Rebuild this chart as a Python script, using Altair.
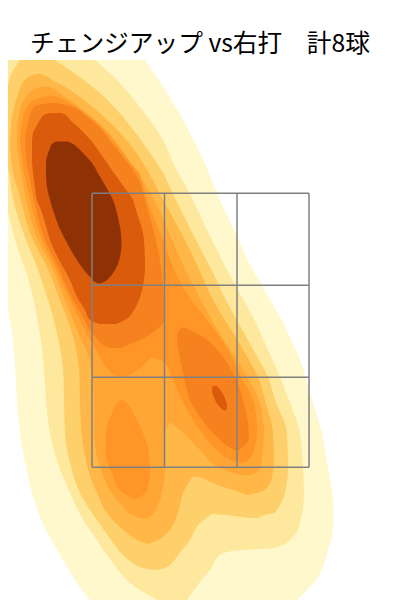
import altair as alt
import pandas as pd

title_text = "チェンジアップ vs右打　計8球"
zone_x = [92, 164.5, 237, 309]
zone_y = [193.3, 285.3, 377.3, 467.3]
level_colors = ["#FFF8CD", "#FEE89E", "#FED06C", "#FFB847", "#FFA636", "#FE9526", "#F6821F", "#D95B0B", "#8E3206"]

L1_y = [60,93,127,153,200,238,267,285,300,317,333,360,400,433,467,500,517,530,550,560,577,590,600]
L1_l = [0,0,0,0,0,0,0,3,7,9,12,14.5,17,20,26,34,40,46,57,63,73,82,90]
L1_r = [145,167,187,200,220,238,251,262,270,280,288,300,312,322,328,333,333.5,333,328,325,318,307,298]

L2_y = [60,80,107,140,165,194,213,240,285,317,350,377,400,433,467,493,523,540,548,551,555,570,582,600]
L2_l = [0,0,0,0,0,2,8,15,30,37,42,44.5,46,50,59,70,85,97,102,104,107,118,129,157]
L2_r = [95,117,140,163,174,190,199,212,235,253,268,280,289,300,303,304,300,290,273,233,220,210,200,187]

L3_y = [60,75,93,117,143,173,194,240,267,300,333,360,377,400,433,467,493,510,513]
L3_l = [20,11,6.5,5,5,9,12,26,37,48,57,62,63.5,64,65,71,80,90,92]
L3_r = [55,77,100,123,143,163,173,196,210,226,244,259,268,275,287,288,285,277,275]
L3b_y = [513,515,518]
L3b_l = [205,225,250]
L3b_r = [275,265,258]
L3c_y = [513,523,540,555,563,568,570]
L3c_l = [92,99,111,123,133,142,155]
L3c_r = [213,200,190,178,172,165,158]

L4_y = [74,76,80,88,97,117,143,173,194,240,267,300,333,360,377,400,433,460,477]
L4_l = [37,30,25,20,17,12,10,13,19,33,47,60,72,78,79.5,80,81.5,86,90]
L4_r = [41,46,52,67,80,104,129,149,160,185,198,213,233,249,258,265,273,274,272]
L4b_y = [477,493,513,533,540,543.5]
L4b_l = [90,97,107,127,137,146]
L4b_r = [192,183,178,167,158,150]
L4c_y = [477,487,491,495]
L4c_l = [200,223,236,247]
L4c_r = [272,268,262,250]

L5_y = [86.5,88,92,98,110,133,143,167,194,240,267,300,337,358,377,400,422]
L5_l = [45,37,30,25,20,17,17,20,25,38,52,65,80,89,92,94,94]
L5_r = [48,53,58,67,83,109,117,133,151,172,184,201,222,236,247,259,263]
L5b_y = [422,433,467,487,497,507,515,518.5]
L5b_l = [94,94,100,108,114,123,132,141]
L5b_r = [170,165,165,163,161,157,152,147]
L5c_y = [422,430,450,468,473,475.5]
L5c_l = [170,180,200,220,233,243]
L5c_r = [263,264,263,260,255,248]

L6_y = [96,98,103,117,123,140,153,167,173,194,240,267,300,320,343,357]
L6_l = [50,40,30,23,22,20,21,23,24,29,42,55,70,80,92,100]
L6_r = [54,60,70,90,97,113,123,134,139,145,163,173,191,207,224,232]
L6b_y = [357,368,374,378]
L6b_l = [100,107,113,121]
L6b_r = [152,140,131,124]
L6c_y = [357,363,377,400,430,450,461,462.5]
L6c_l = [152,165,172,182,200,217,233,240]
L6c_r = [232,235,241,253,257,254,247,243]
L6d_y = [400,403,413,433,453,473,490,495,499]
L6d_l = [121,117,112,106,106,112,120,127,134]
L6d_r = [123,127,133,143,149,150,147,143,136]

L7_y = [103,105,108,115,123,143,157,170,180,200,240,267,300,317,333,340,345,348]
L7_l = [50,38,33,30,28,25,26,28,30,34,45,58,73,83,92,98,103,110]
L7_r = [56,66,75,85,95,112,123,133,139,145,156,161,164,165,152,140,128,121]
L7b_y = [327.5,330,337,353,377,400,417,437,447,450.5]
L7b_l = [183,179,177,179,184,190,200,217,229,236]
L7b_r = [185,190,203,220,235,243,247,249,243,238]

L8_y = [113,115,120,127,133,143,150,160,173,187,200,210,233,240,267,280,297,310,320,324]
L8_l = [49,44,40,36,33,32,32,32,33,35,37,41,48,50,63,70,77,85,90,100]
L8_r = [61,66,70,78,84,93,98,105,114,124,133,136,143,144,145,144,140,134,125,116]
L8b_y = [386,390,395,400,405,409,410.5]
L8b_l = [213,212,213,215,218,222,224]
L8b_r = [217,220.5,223.5,225.5,227,227,225]

L9_y = [141.5,144,148,155,163,175,187,200,213,227,243,257,270,278,282,283.5]
L9_l = [56,52,50,47.5,46,46,47,50,54,59,67,75,84,91,95,99]
L9_r = [68,73,78,85,92,99,106,113,117,120,121.5,120,115,109,104,100]

blobs = [
    (0, L1_y, L1_l, L1_r), (1, L2_y, L2_l, L2_r),
    (2, L3_y, L3_l, L3_r), (2, L3b_y, L3b_l, L3b_r), (2, L3c_y, L3c_l, L3c_r),
    (3, L4_y, L4_l, L4_r), (3, L4b_y, L4b_l, L4b_r), (3, L4c_y, L4c_l, L4c_r),
    (4, L5_y, L5_l, L5_r), (4, L5b_y, L5b_l, L5b_r), (4, L5c_y, L5c_l, L5c_r),
    (5, L6_y, L6_l, L6_r), (5, L6b_y, L6b_l, L6b_r), (5, L6c_y, L6c_l, L6c_r), (5, L6d_y, L6d_l, L6d_r),
    (6, L7_y, L7_l, L7_r), (6, L7b_y, L7b_l, L7b_r),
    (7, L8_y, L8_l, L8_r), (7, L8b_y, L8b_l, L8b_r),
    (8, L9_y, L9_l, L9_r),
]

x_scale = alt.Scale(domain=[8, 392], nice=False, zero=False)
y_scale = alt.Scale(domain=[600, 60], nice=False, zero=False)

layers = []
for level, ys, ls, rs in blobs:
    df = pd.DataFrame({"y": ys, "l": ls, "r": rs})
    layers.append(
        alt.Chart(df).mark_area(orient="horizontal", interpolate="monotone", color=level_colors[level], clip=True).encode(
            y=alt.Y("y:Q", scale=y_scale, axis=None),
            x=alt.X("l:Q", scale=x_scale, axis=None),
            x2="r:Q",
        )
    )

vlines = pd.DataFrame({"x": zone_x, "y1": [zone_y[0]] * 4, "y2": [zone_y[-1]] * 4})
hlines = pd.DataFrame({"y": zone_y, "x1": [zone_x[0]] * 4, "x2": [zone_x[-1]] * 4})
layers.append(alt.Chart(vlines).mark_rule(color="#808080", strokeWidth=1.5).encode(
    x=alt.X("x:Q", scale=x_scale, axis=None), y=alt.Y("y1:Q", scale=y_scale, axis=None), y2="y2:Q"))
layers.append(alt.Chart(hlines).mark_rule(color="#808080", strokeWidth=1.5).encode(
    y=alt.Y("y:Q", scale=y_scale, axis=None), x=alt.X("x1:Q", scale=x_scale, axis=None), x2="x2:Q"))

chart = alt.layer(*layers).properties(
    width=384,
    height=540,
    background="white",
    autosize=alt.AutoSizeParams(type="none"),
    padding={"left": 0, "top": 52, "right": 0, "bottom": 0},
    title=alt.TitleParams(title_text, font="Noto Sans CJK JP", fontSize=24.7, fontWeight="normal",
                          color="#000000", anchor="middle", offset=3),
).configure_view(stroke=None)

chart.save("out.html", embed_options={"renderer": "svg", "actions": False})
